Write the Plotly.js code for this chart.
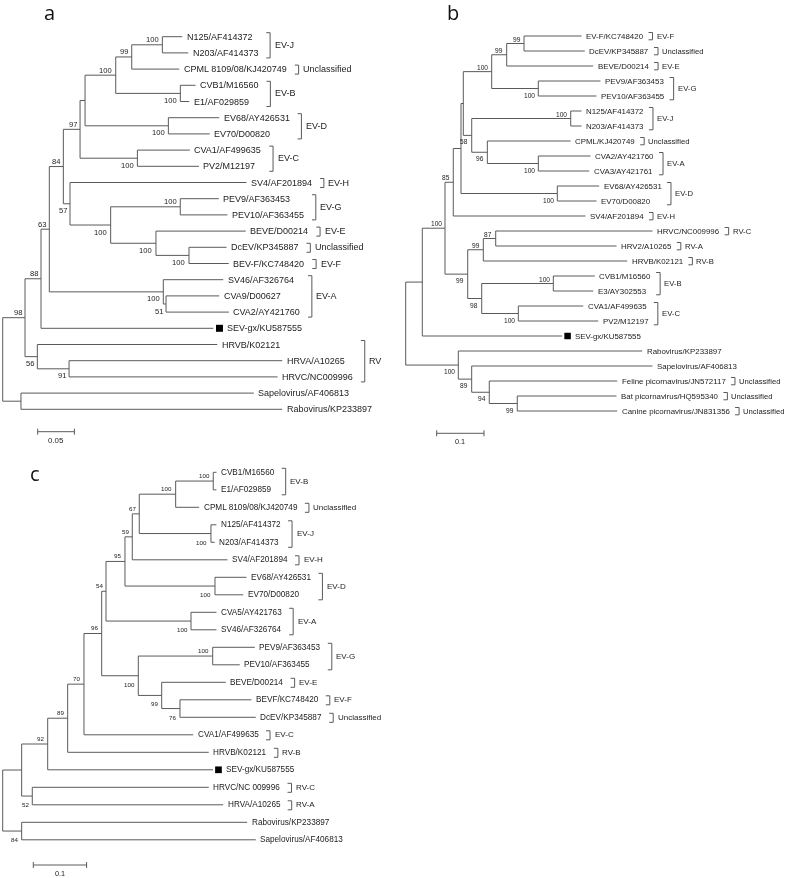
<!DOCTYPE html>
<html><head><meta charset="utf-8">
<script src="https://cdn.plot.ly/plotly-3.0.1.min.js"></script>
<style>html,body{margin:0;padding:0;background:#fff}#chart{width:787px;height:878px;will-change:transform}</style>
</head><body><div id="chart"></div>
<script>
// ================= DATA =================
// Trees in Newick format: branch lengths (substitutions/site) and bootstrap values
const treeA = "((((((((((N125/AF414372:0.0271,N203/AF414373:0.0353)100:0.0417,CPML 8109/08/KJ420749:0.0647)99:0.0218,(CVB1/M16560:0.0207,E1/AF029859:0.0121)100:0.0880)100:0.0418,(EV68/AY426531:0.0693,EV70/D00820:0.0565)100:0.1135):0.0068,(CVA1/AF499635:0.0715,PV2/M12197:0.0838)100:0.0781)97:0.0228,(SV4/AF201894:0.2405,((PEV9/AF363453:0.0525,PEV10/AF363455:0.0643)100:0.0948,(BEVE/D00214:0.1223,(DcEV/KP345887:0.0511,BEV-F/KC748420:0.0542)100:0.0450)100:0.0617)100:0.0554)57:0.0091)84:0.0191,(SV46/AF326764:0.0816,(CVA9/D00627:0.0725,CVA2/AY421760:0.0856)51:0.0037)100:0.1553)63:0.0113,SEV-gx/KU587555:0.2347)88:0.0218,(HRVB/K02121:0.2451,(HRVA/A10265:0.2905,HRVC/NC009996:0.2841)91:0.0432)56:0.0168)98:0.0304,(Sapelovirus/AF406813:0.3172,Rabovirus/KP233897:0.3559):0.0249);";

const treeB = "(((((((((EV-F/KC748420:0.1216,DcEV/KP345887:0.1285)99:0.0366,BEVE/D00214:0.1829)99:0.0317,(PEV9/AF363453:0.1315,PEV10/AF363455:0.1230)100:0.0985)100:0.0600,((N125/AF414372:0.0228,N203/AF414373:0.0228)100:0.2093,(CPML/KJ420749:0.1759,(CVA2/AY421760:0.1104,CVA3/AY421761:0.1076)100:0.1078)96:0.0330)58:0.0178):0.0049,(EV68/AY426531:0.0886,EV70/D00820:0.0829)100:0.2036):0.0163,SV4/AF201894:0.2795)85:0.0175,(((HRVC/NC009996:0.3315,HRV2/A10265:0.2554)87:0.0262,HRVB/K02121:0.3042)99:0.0330,((CVB1/M16560:0.0877,E3/AY302553:0.0844)100:0.1514,(CVA1/AF499635:0.1372,PV2/M12197:0.1689)100:0.0774)98:0.0296)99:0.0480)100:0.0480,SEV-gx/KU587555:0.2953):0.0351,(Rabovirus/KP233897:0.3888,(Sapelovirus/AF406813:0.3822,(Feline picornavirus/JN572117:0.2704,(Bat picornavirus/HQ595340:0.2097,Canine picornavirus/JN831356:0.2112)99:0.0592)94:0.0372)89:0.0283)100:0.1112);";

const treeC = "((((((((((((CVB1/M16560:0.0060,E1/AF029859:0.0060)100:0.0705,CPML 8109/08/KJ420749:0.0441)100:0.0683,(N125/AF414372:0.0103,N203/AF414373:0.0071)100:0.1345)67:0.0131,SV4/AF201894:0.1786)59:0.0137,(EV68/AY426531:0.0591,EV70/D00820:0.0529)100:0.1689)95:0.0356,(CVA5/AY421763:0.0478,SV46/AF326764:0.0478)100:0.1595)54:0.0081,((PEV9/AF363453:0.0790,PEV10/AF363455:0.0508)100:0.1396,(BEVE/D00214:0.1203,(BEVF/KC748420:0.1341,DcEV/KP345887:0.1422)76:0.0343)99:0.0439)100:0.0687)96:0.0332,CVA1/AF499635:0.2049)70:0.0306,HRVB/K02121:0.2647)89:0.0375,SEV-gx/KU587555:0.3101)92:0.0488,(HRVC/NC 009996:0.3311,HRVA/A10265:0.3582)52:0.0199):0.0356,(Rabovirus/KP233897:0.4231,Sapelovirus/AF406813:0.4392)84:0.0356);";

// Clade brackets: [label, member taxa]
const cladesA = [
  ["EV-J", ["N125/AF414372","N203/AF414373"]],
  ["Unclassified", ["CPML 8109/08/KJ420749"]],
  ["EV-B", ["CVB1/M16560","E1/AF029859"]],
  ["EV-D", ["EV68/AY426531","EV70/D00820"]],
  ["EV-C", ["CVA1/AF499635","PV2/M12197"]],
  ["EV-H", ["SV4/AF201894"]],
  ["EV-G", ["PEV9/AF363453","PEV10/AF363455"]],
  ["EV-E", ["BEVE/D00214"]],
  ["Unclassified", ["DcEV/KP345887"]],
  ["EV-F", ["BEV-F/KC748420"]],
  ["EV-A", ["SV46/AF326764","CVA9/D00627","CVA2/AY421760"]],
  ["RV", ["HRVB/K02121","HRVA/A10265","HRVC/NC009996"]]
];
const cladesB = [
  ["EV-F", ["EV-F/KC748420"]],
  ["Unclassified", ["DcEV/KP345887"]],
  ["EV-E", ["BEVE/D00214"]],
  ["EV-G", ["PEV9/AF363453","PEV10/AF363455"]],
  ["EV-J", ["N125/AF414372","N203/AF414373"]],
  ["Unclassified", ["CPML/KJ420749"]],
  ["EV-A", ["CVA2/AY421760","CVA3/AY421761"]],
  ["EV-D", ["EV68/AY426531","EV70/D00820"]],
  ["EV-H", ["SV4/AF201894"]],
  ["RV-C", ["HRVC/NC009996"]],
  ["RV-A", ["HRV2/A10265"]],
  ["RV-B", ["HRVB/K02121"]],
  ["EV-B", ["CVB1/M16560","E3/AY302553"]],
  ["EV-C", ["CVA1/AF499635","PV2/M12197"]],
  ["Unclassified", ["Feline picornavirus/JN572117"]],
  ["Unclassified", ["Bat picornavirus/HQ595340"]],
  ["Unclassified", ["Canine picornavirus/JN831356"]]
];
const cladesC = [
  ["EV-B", ["CVB1/M16560","E1/AF029859"]],
  ["Unclassified", ["CPML 8109/08/KJ420749"]],
  ["EV-J", ["N125/AF414372","N203/AF414373"]],
  ["EV-H", ["SV4/AF201894"]],
  ["EV-D", ["EV68/AY426531","EV70/D00820"]],
  ["EV-A", ["CVA5/AY421763","SV46/AF326764"]],
  ["EV-G", ["PEV9/AF363453","PEV10/AF363455"]],
  ["EV-E", ["BEVE/D00214"]],
  ["EV-F", ["BEVF/KC748420"]],
  ["Unclassified", ["DcEV/KP345887"]],
  ["EV-C", ["CVA1/AF499635"]],
  ["RV-B", ["HRVB/K02121"]],
  ["RV-C", ["HRVC/NC 009996"]],
  ["RV-A", ["HRVA/A10265"]]
];
const markedTaxa = ["SEV-gx/KU587555"];
const panelLetters = ["a", "b", "c"];
const scaleBarLengths = [0.05, 0.1, 0.1];
const scaleBarLabels = ["0.05", "0.1", "0.1"];

// ================= LAYOUT / STYLE =================
const W = 787, H = 878;
const LINE = "#5a5a5a", TEXT = "#222";
const FAM = '"Liberation Sans", Arial, Helvetica, sans-serif';
const panels = [
  {tree: treeA, clades: cladesA, xDom: [0, 0.5], rootPx: 2.7, ppu: 734, topPx: 36.7, spPx: 16.2,
   leafFont: 9, cladeFont: 9, bootNarrow: 9, bootReg: 7.6, bootUp: 5, bootDown: 7,
   labelOff: 3.5, sqOff: 6.2, sqTextOff: 13, sqSize: 7, brGap: 9, brTick: 3.8, brTop: 4, brBot: 5, brLabelOff: 3.5,
   scaleLeftPx: 37.7, scaleYPx: 431.7, scaleLabelYPx: 440, scaleFont: 7.9, letterX: 49.5, letterTop: -2},
  {tree: treeB, clades: cladesB, xDom: [0.5, 1], rootPx: 405.7, ppu: 473, topPx: 36, spPx: 15.0,
   leafFont: 7.9, cladeFont: 7.7, bootNarrow: 8, bootReg: 6.6, bootUp: 4.5, bootDown: 6.5,
   labelOff: 3.5, sqOff: 5.6, sqTextOff: 11.8, sqSize: 6.5, brGap: 6.5, brTick: 4, brTop: 3.5, brBot: 3.8, brLabelOff: 3,
   scaleLeftPx: 436.7, scaleYPx: 433.3, scaleLabelYPx: 441, scaleFont: 7.3, letterX: 452.8, letterTop: -2},
  {tree: treeC, clades: cladesC, xDom: [0, 0.5], rootPx: 2.7, ppu: 533, topPx: 472.3, spPx: 17.5,
   leafFont: 8.2, cladeFont: 8, bootNarrow: 7.5, bootReg: 6.2, bootUp: 5.5, bootDown: 8.5,
   labelOff: 3.5, sqOff: 5.5, sqTextOff: 12, sqSize: 6.7, brGap: 8.5, brTick: 4, brTop: 4, brBot: 5, brLabelOff: 3.5,
   scaleLeftPx: 33.3, scaleYPx: 865, scaleLabelYPx: 873.3, scaleFont: 7.3, letterX: 34.5, letterTop: 458.5}
];

// ================= HELPERS =================
function parseNewick(s) {
  let i = 0;
  function node() {
    const n = {children: [], name: "", label: "", length: 0};
    if (s[i] === "(") {
      i++;
      n.children.push(node());
      while (s[i] === ",") { i++; n.children.push(node()); }
      i++; // ')'
    }
    let name = "";
    while (i < s.length && !":,);".includes(s[i])) name += s[i++];
    if (n.children.length) n.label = name.trim(); else n.name = name.trim();
    if (s[i] === ":") {
      i++; let num = "";
      while (i < s.length && !",);".includes(s[i])) num += s[i++];
      n.length = parseFloat(num);
    }
    return n;
  }
  return node();
}
function layoutTree(root) {
  const leaves = [], internals = [];
  (function walk(n, x, parent, first) {
    n.x = x; n.parent = parent; n.upper = first;
    if (!n.children.length) { n.y = leaves.length; leaves.push(n); }
    else {
      n.children.forEach((c, k) => walk(c, x + c.length, n, k === 0));
      n.y = (n.children[0].y + n.children[n.children.length - 1].y) / 2;
      internals.push(n);
    }
  })(root, 0, null, true);
  return {leaves, internals};
}
const ctx = document.createElement("canvas").getContext("2d");
function textW(t, size, fam) { ctx.font = size + "px " + fam; return ctx.measureText(t).width; }
const narrowOK = textW("1000", 20, '"Liberation Sans Narrow", monospace') !== textW("1000", 20, "monospace");
const BOOTFAM = narrowOK ? '"Liberation Sans Narrow", "Arial Narrow", sans-serif' : FAM;

// ================= BUILD =================
const traces = [], annotations = [];
const layout = {
  width: W, height: H, margin: {l: 0, r: 0, t: 0, b: 0},
  paper_bgcolor: "#fff", plot_bgcolor: "rgba(0,0,0,0)", showlegend: false,
  annotations: annotations
};

panels.forEach((p, pi) => {
  const ax = pi === 0 ? "" : String(pi + 1);
  const xName = "x" + ax, yName = "y" + ax;
  const domL = p.xDom[0] * W, domR = p.xDom[1] * W;
  layout["xaxis" + ax] = {domain: p.xDom, range: [(domL - p.rootPx) / p.ppu, (domR - p.rootPx) / p.ppu],
    visible: false, fixedrange: true, anchor: yName};
  layout["yaxis" + ax] = {domain: [0, 1], range: [(H - p.topPx) / p.spPx, -p.topPx / p.spPx],
    visible: false, fixedrange: true, anchor: xName};
  const toPx = x => p.rootPx + x * p.ppu;
  const toX = px => (px - p.rootPx) / p.ppu;

  const root = parseNewick(p.tree);
  const {leaves, internals} = layoutTree(root);
  const xs = [], ys = [];
  const seg = (x0, y0, x1, y1) => { xs.push(x0, x1, null); ys.push(y0, y1, null); };

  internals.forEach(n => {
    seg(n.x, n.children[0].y, n.x, n.children[n.children.length - 1].y);
    if (n.parent && n.label) {
      annotations.push({xref: xName, yref: yName, x: n.x, y: n.y, text: n.label, showarrow: false,
        xanchor: "right", yanchor: "middle", xshift: -2.5, yshift: n.upper ? p.bootUp : -p.bootDown,
        borderpad: 0, font: {family: BOOTFAM, size: narrowOK ? p.bootNarrow : p.bootReg, color: TEXT}});
    }
  });
  [...internals, ...leaves].forEach(n => { if (n.parent) seg(n.parent.x, n.y, n.x, n.y); });

  const textEnd = {};
  const sqX = [], sqY = [];
  leaves.forEach(l => {
    const marked = markedTaxa.includes(l.name);
    const off = marked ? p.sqTextOff : p.labelOff;
    if (marked) { sqX.push(l.x + p.sqOff / p.ppu); sqY.push(l.y); }
    annotations.push({xref: xName, yref: yName, x: l.x, y: l.y, text: l.name, showarrow: false,
      xanchor: "left", yanchor: "middle", xshift: off, borderpad: 0,
      font: {family: FAM, size: p.leafFont, color: TEXT}});
    textEnd[l.name] = {px: toPx(l.x) + off + textW(l.name, p.leafFont, FAM), y: l.y};
  });

  // clade brackets
  const bx = [], by = [];
  p.clades.forEach(([label, taxa]) => {
    const m = taxa.map(t => textEnd[t]).filter(Boolean);
    if (!m.length) return;
    const endPx = Math.max(...m.map(e => e.px)) + p.brGap + p.brTick;
    const yT = Math.min(...m.map(e => e.y)) - p.brTop / p.spPx;
    const yB = Math.max(...m.map(e => e.y)) + p.brBot / p.spPx;
    const xb = toX(endPx), xt = toX(endPx - p.brTick);
    bx.push(xt, xb, xb, xt, null); by.push(yT, yT, yB, yB, null);
    annotations.push({xref: xName, yref: yName, x: xb, y: (yT + yB) / 2 - (p.brBot - p.brTop) / 2 / p.spPx,
      text: label, showarrow: false, xanchor: "left", yanchor: "middle", xshift: p.brLabelOff, borderpad: 0,
      font: {family: FAM, size: p.cladeFont, color: TEXT}});
  });

  // scale bar
  const sy = (p.scaleYPx - p.topPx) / p.spPx, tk = 3 / p.spPx;
  const s0 = toX(p.scaleLeftPx), s1 = s0 + scaleBarLengths[pi];
  xs.push(s0, s1, null, s0, s0, null, s1, s1, null);
  ys.push(sy, sy, null, sy - tk, sy + tk, null, sy - tk, sy + tk, null);
  annotations.push({xref: xName, yref: yName, x: (s0 + s1) / 2, y: (p.scaleLabelYPx - p.topPx) / p.spPx,
    text: scaleBarLabels[pi], showarrow: false, xanchor: "center", yanchor: "middle", borderpad: 0,
    font: {family: FAM, size: p.scaleFont, color: TEXT}});

  traces.push({type: "scatter", mode: "lines", x: xs, y: ys, xaxis: xName, yaxis: yName,
    line: {color: LINE, width: 1}, hoverinfo: "skip"});
  traces.push({type: "scatter", mode: "lines", x: bx, y: by, xaxis: xName, yaxis: yName,
    line: {color: LINE, width: 1}, hoverinfo: "skip"});
  traces.push({type: "scatter", mode: "markers", x: sqX, y: sqY, xaxis: xName, yaxis: yName,
    marker: {symbol: "square", size: p.sqSize, color: "#000"}, hoverinfo: "skip"});

  annotations.push({xref: "paper", yref: "paper", x: p.letterX / W, y: 1 - p.letterTop / H, text: panelLetters[pi],
    showarrow: false, xanchor: "center", yanchor: "top", borderpad: 0,
    font: {family: '"Open Sans", "Noto Sans", sans-serif', size: 20, color: "#111"}});
});

Plotly.newPlot("chart", traces, layout, {staticPlot: true, displayModeBar: false});
</script></body></html>
